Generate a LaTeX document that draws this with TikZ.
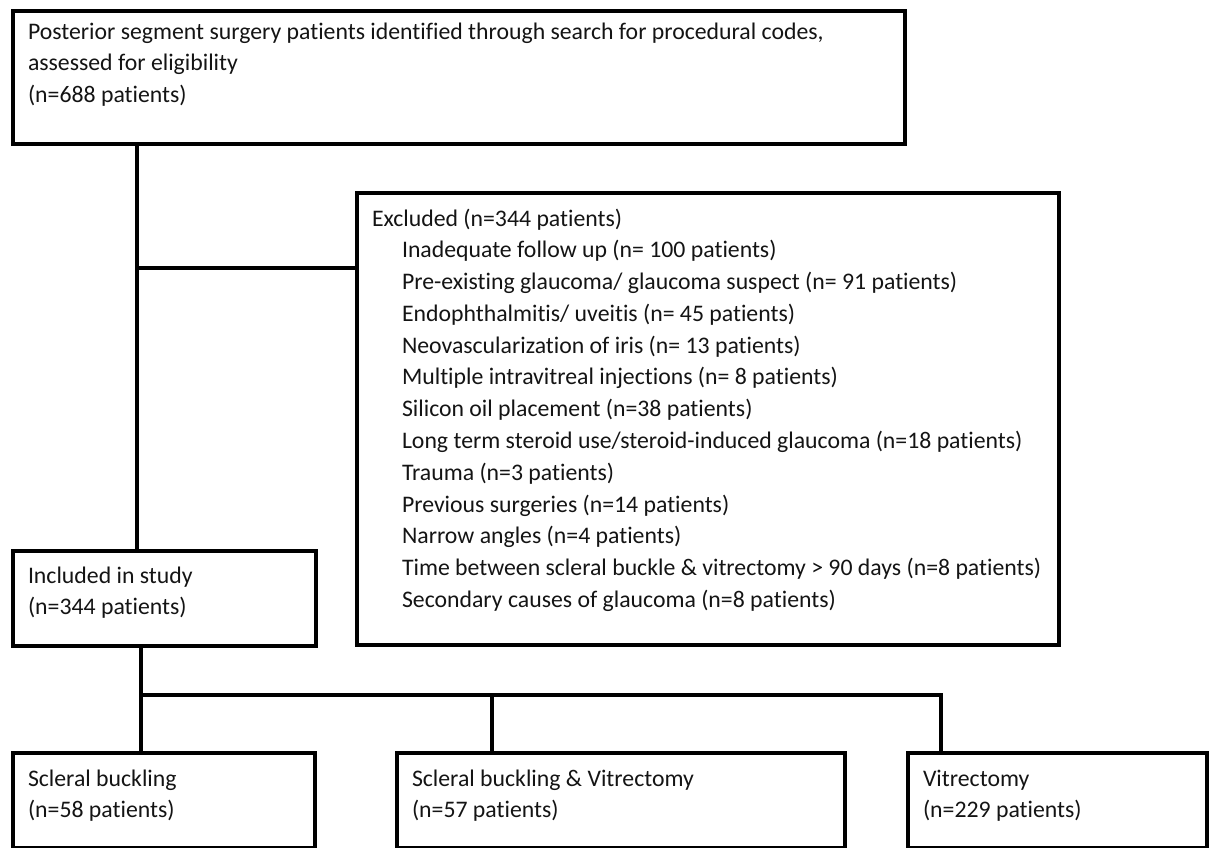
\documentclass[tikz,border=0pt]{standalone}
\usepackage{fontspec}
\setmainfont{Carlito}[Ligatures=NoCommon]
\usepackage{tikz}
\usetikzlibrary{positioning,calc}

\begin{document}
\begin{tikzpicture}[
  x=0.025cm,
  y=-0.025cm,
  box/.style={
    draw=black,
    line width=0.1cm,
    anchor=north west,
    inner xsep=0.375cm,
    inner ysep=0pt,
    align=flush left,
    text=black!92,
    font=\fontsize{16.9}{22.6}\selectfont
  },
  endbox/.style={
    box,
    text height=0.8375cm,
    text depth=1.55cm
  },
  link/.style={
    draw=black,
    line width=0.1cm
  }
]
\useasboundingbox (0,0) rectangle (1212,848);

\node[box,text width=21.55cm,text height=0.7cm,text depth=2.625cm] (pool) at (11,9)
  {Posterior segment surgery patients identified through search for procedural codes,\\
   assessed for eligibility\\
   (n=688 patients)};

\node[box,text width=16.8cm,text height=0.8375cm,text depth=10.4625cm] (excl) at (355,190.5)
  {Excluded (n=344 patients)\\
   \hspace*{0.75cm}Inadequate follow up (n= 100 patients)\\
   \hspace*{0.75cm}Pre-existing glaucoma/ glaucoma suspect (n= 91 patients)\\
   \hspace*{0.75cm}Endophthalmitis/ uveitis (n= 45 patients)\\
   \hspace*{0.75cm}Neovascularization of iris (n= 13 patients)\\
   \hspace*{0.75cm}Multiple intravitreal injections (n= 8 patients)\\
   \hspace*{0.75cm}Silicon oil placement (n=38 patients)\\
   \hspace*{0.75cm}Long term steroid use/steroid-induced glaucoma (n=18 patients)\\
   \hspace*{0.75cm}Trauma (n=3 patients)\\
   \hspace*{0.75cm}Previous surgeries (n=14 patients)\\
   \hspace*{0.75cm}Narrow angles (n=4 patients)\\
   \hspace*{0.75cm}\mbox{Time between scleral buckle \& vitrectomy > 90 days (n=8 patients)}\\
   \hspace*{0.75cm}Secondary causes of glaucoma (n=8 patients)};

\node[box,text width=6.825cm,text height=0.8cm,text depth=1.575cm] (incl) at (11,549)
  {Included in study\\
   (n=344 patients)};

\node[endbox,text width=6.8cm] (buck) at (11,750.5)
  {Scleral buckling\\
   (n=58 patients)};
\node[endbox,text width=10.45cm] (both) at (395,750.5)
  {Scleral buckling \& Vitrectomy\\
   (n=57 patients)};
\node[endbox,text width=6.725cm] (vitr) at (906,750.5)
  {Vitrectomy\\
   (n=229 patients)};

% Split off the excluded patients
\coordinate (split) at (136.5,268);
\draw[link] (pool.south -| split) -- (incl.north -| split);
\draw[link] (split) -- (split -| excl.west);

% Three surgery groups
\coordinate (busl) at (140.5,695);
\coordinate (busm) at (491.5,695);
\coordinate (busr) at (940.5,695);
\draw[link] (incl.south -| busl) -- (buck.north -| busl);
\draw[link] (busl) -- (busr) -- (vitr.north -| busr);
\draw[link] (busm) -- (both.north -| busm);

\end{tikzpicture}
\end{document}
